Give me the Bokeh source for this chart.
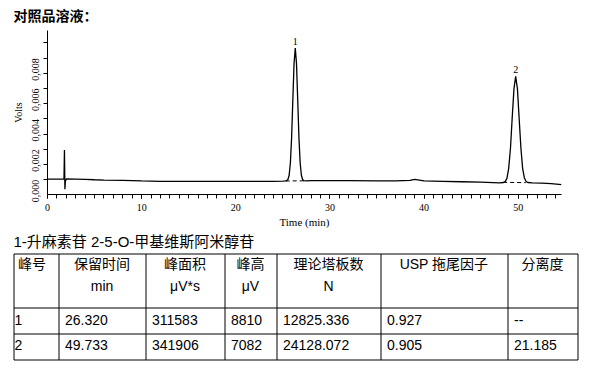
import math
from bokeh.plotting import figure
from bokeh.layouts import column
from bokeh.models import Range1d, FixedTicker
from bokeh.core.properties import value
from bokeh.embed import file_html
from bokeh.resources import INLINE

# ---------------- data ----------------
title_text = "对照品溶液："

time_min = [0.0, 1.0, 1.75, 1.80, 1.85, 1.90, 2.0, 3.0, 4.0, 5.0, 6.0, 8.0, 10.0, 12.0, 15.0, 20.0, 24.0,
            25.0, 25.25, 25.41, 25.54, 25.67, 25.80, 25.93, 26.06, 26.19, 26.32, 26.45, 26.58, 26.71,
            26.84, 26.97, 27.10, 27.23, 27.5, 28.0, 30.0, 32.0, 35.0, 37.0, 38.5, 39.0, 39.5, 40.0,
            42.0, 44.0, 46.0, 48.0, 48.44, 48.62, 48.81, 48.99, 49.18, 49.36, 49.55, 49.73, 49.92,
            50.10, 50.29, 50.47, 50.66, 50.84, 51.03, 51.5, 52.5, 53.5, 54.6]
volts = [0.00004, 0.00004, 0.00004, 0.00195, -0.00062, -0.0001, 0.00005, 0.00004, 0.00003, 0.0, -0.00002,
         -0.00004, -0.00008, -0.0001, -0.0001, -0.0001, -0.0001,
         -0.00009, -0.00007, -0.00005, 0.00002, 0.00030, 0.00110, 0.00276, 0.00523, 0.00764, 0.00867,
         0.00764, 0.00523, 0.00276, 0.00110, 0.00030, 0.00002, -0.00006, -0.00007, -0.00006, -0.00006,
         -0.00006, -0.00007, -0.00007, -0.00004, 0.00002, -0.00002, -0.00008,
         -0.0001, -0.00013, -0.00016, -0.0002, -0.00018, -0.00012, 0.00011, 0.00075, 0.00207, 0.00405,
         0.00598, 0.0068, 0.00598, 0.00405, 0.00207, 0.00075, 0.00011, -0.00012, -0.00018,
         -0.0002, -0.00022, -0.00026, -0.00032]

base1_t = [25.3, 27.3]
base1_v = [-0.00008, -0.00007]
base2_t = [48.4, 50.8]
base2_v = [-0.00017, -0.00019]

peak_labels = ["1", "2"]
peak_times = [26.32, 49.73]
peak_tops = [0.00867, 0.0068]

x_ticks = [0, 10, 20, 30, 40, 50]
x_minor = list(range(0, 55))
y_ticks = [0.0, 0.002, 0.004, 0.006, 0.008]
y_tick_labels = ["0,000", "0,002", "0,004", "0,006", "0,008"]
y_minor = [0.001, 0.003, 0.005, 0.007, 0.009]

caption = "1-升麻素苷 2-5-O-甲基维斯阿米醇苷"
header_top = ["峰号", "保留时间", "峰面积", "峰高", "理论塔板数", "USP 拖尾因子", "分离度"]
header_unit = ["", "min", "μV*s", "μV", "N", "", ""]
peak_no = ["1", "2"]
ret_time = [26.320, 49.733]
peak_area = [311583, 341906]
peak_height = [8810, 7082]
plates = [12825.336, 24128.072]
tailing = [0.927, 0.905]
resolution = [None, 21.185]

W = 594

# ---------------- title ----------------
TH = 30
tf = figure(width=W, height=TH, x_range=Range1d(0, W), y_range=Range1d(TH, 0),
            x_axis_type=None, y_axis_type=None, min_border=0, frame_align=False,
            output_backend="svg", toolbar_location=None)
tf.outline_line_color = None
tf.grid.visible = False
tf.text(x=[13], y=[14.5], text=[title_text], text_font=value("Noto Sans CJK SC"),
        text_font_size="14px", text_font_style="bold", text_baseline="middle",
        text_align="left", text_color="black")

# ---------------- chart ----------------
p = figure(width=W, height=200, x_range=Range1d(0, 54.6), y_range=Range1d(-0.00097, 0.00982),
           output_backend="svg", toolbar_location=None, frame_align=False,
           min_border_left=47, min_border_right=33, min_border_top=0, min_border_bottom=36)
p.outline_line_color = None
p.grid.visible = False

p.line(time_min, volts, line_color="black", line_width=1.3)
p.line(base1_t, base1_v, line_color="black", line_width=1, line_dash="4 3")
p.line(base2_t, base2_v, line_color="black", line_width=1, line_dash="4 3")
p.text(x=peak_times, y=peak_tops, text=peak_labels, text_align="center", text_baseline="bottom",
       y_offset=-3, text_font=value("Liberation Serif"), text_font_size="10px", text_color="black")

p.xaxis.ticker = FixedTicker(ticks=x_ticks, minor_ticks=x_minor)
p.yaxis.ticker = FixedTicker(ticks=y_ticks, minor_ticks=y_minor)
p.yaxis.major_label_overrides = {t: s for t, s in zip(y_ticks, y_tick_labels)}
p.yaxis.major_label_orientation = math.pi / 2
p.xaxis.axis_label = "Time (min)"
p.yaxis.axis_label = "Volts"
for ax in (p.xaxis, p.yaxis):
    ax.axis_line_color = "black"
    ax.axis_line_width = 1
    ax.major_tick_in = 0
    ax.major_tick_out = 4
    ax.minor_tick_in = 0
    ax.minor_tick_out = 4
    ax.major_tick_line_color = "black"
    ax.minor_tick_line_color = "black"
    ax.major_label_text_font = "Liberation Serif"
    ax.major_label_text_font_size = "10px"
    ax.major_label_text_color = "black"
    ax.axis_label_text_font = "Liberation Serif"
    ax.axis_label_text_font_style = "normal"
    ax.axis_label_text_color = "black"
p.xaxis.major_label_standoff = 5
p.xaxis.axis_label_standoff = 2
p.xaxis.axis_label_text_font_size = "11px"
p.yaxis.major_label_standoff = 8
p.yaxis.axis_label_standoff = 2
p.yaxis.axis_label_text_font_size = "10px"

# ---------------- table ----------------
H = 369 - TH - 200
t = figure(width=W, height=H, x_range=Range1d(0, W), y_range=Range1d(H, 0),
           x_axis_type=None, y_axis_type=None, min_border=0, frame_align=False,
           output_backend="svg", toolbar_location=None)
t.outline_line_color = None
t.grid.visible = False

col_edges = [13, 58, 145, 224, 276, 380, 507, 577]
row_edges = [23, 77, 103, 129]
xe = [c + 0.5 for c in col_edges]
ye = [r + 0.5 for r in row_edges]
t.segment(x0=[xe[0]] * len(ye), x1=[xe[-1]] * len(ye), y0=ye, y1=ye, line_color="black", line_width=1)
t.segment(x0=xe, x1=xe, y0=[ye[0]] * len(xe), y1=[ye[-1]] * len(xe), line_color="black", line_width=1)

font = value("Liberation Sans, Noto Sans CJK SC")
t.text(x=[13], y=[11], text=[caption], text_font=font, text_font_size="15px",
       text_baseline="middle", text_align="left", text_color="black")

centers = [(col_edges[i] + col_edges[i + 1]) / 2 for i in range(len(header_top))]
centers[0] -= 4
t.text(x=centers, y=[33] * len(header_top), text=header_top, text_font=font, text_font_size="14px",
       text_baseline="middle", text_align="center", text_color="black")
t.text(x=centers, y=[55] * len(header_unit), text=header_unit, text_font=font, text_font_size="14px",
       text_baseline="middle", text_align="center", text_color="black")

row_y = [89, 114]
lefts = [col_edges[0] + 1] + [c + 6.5 for c in col_edges[1:-1]]
xs, ys, txt = [], [], []
for i in range(len(peak_no)):
    cells = [peak_no[i], f"{ret_time[i]:.3f}", str(peak_area[i]), str(peak_height[i]),
             f"{plates[i]:.3f}", f"{tailing[i]:.3f}",
             "--" if resolution[i] is None else f"{resolution[i]:.3f}"]
    for j, c in enumerate(cells):
        xs.append(lefts[j])
        ys.append(row_y[i])
        txt.append(c)
t.text(x=xs, y=ys, text=txt, text_font=font, text_font_size="14px",
       text_baseline="middle", text_align="left", text_color="black")

layout = column(tf, p, t)
open("out.html", "w").write(file_html(layout, INLINE))
